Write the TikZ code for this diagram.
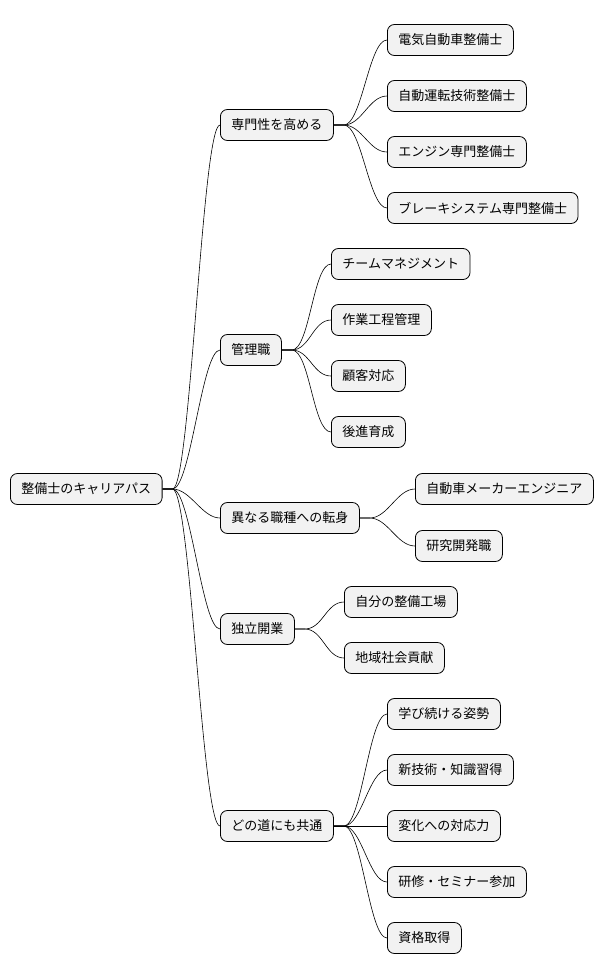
\documentclass[tikz,border=0pt]{standalone}
\usepackage{fontspec}
\setmainfont{Noto Sans CJK JP}
\usepackage{tikz}

\begin{document}
\begin{tikzpicture}[x=1pt,y=-1pt,
  topic/.style={draw=black,fill=gray!10,rounded corners=7pt,anchor=west,line width=0.8pt,
    minimum height=31pt,inner xsep=11pt,font=\fontsize{13}{15}\selectfont},
  link/.style={line width=0.6pt}]
	\useasboundingbox (0,0) rectangle (614,978);
	
	% root
	\node[topic] (root) at (10,489) {整備士のキャリアパス};
	
	% first level
	\node[topic] (pro) at (220,125) {専門性を高める};
	\node[topic] (mgr) at (220,350) {管理職};
	\node[topic] (chg) at (220,518) {異なる職種への転身};
	\node[topic] (ind) at (220,629) {独立開業};
	\node[topic] (com) at (220,826) {どの道にも共通};
	
	% second level
	\node[topic] (pro1) at (387,40) {電気自動車整備士};
	\node[topic] (pro2) at (387,96) {自動運転技術整備士};
	\node[topic] (pro3) at (387,152) {エンジン専門整備士};
	\node[topic] (pro4) at (387,208) {ブレーキシステム専門整備士};
	\node[topic] (mgr1) at (331,264) {チームマネジメント};
	\node[topic] (mgr2) at (331,320) {作業工程管理};
	\node[topic] (mgr3) at (331,376) {顧客対応};
	\node[topic] (mgr4) at (331,432) {後進育成};
	\node[topic] (chg1) at (415,489) {自動車メーカーエンジニア};
	\node[topic] (chg2) at (415,546) {研究開発職};
	\node[topic] (ind1) at (344,602) {自分の整備工場};
	\node[topic] (ind2) at (344,658) {地域社会貢献};
	\node[topic] (com1) at (387,714) {学び続ける姿勢};
	\node[topic] (com2) at (387,770) {新技術・知識習得};
	\node[topic] (com3) at (387,826) {変化への対応力};
	\node[topic] (com4) at (387,882) {研修・セミナー参加};
	\node[topic] (com5) at (387,938) {資格取得};
	
	% connectors
	\foreach \p/\c in {root/pro,root/mgr,root/chg,root/ind,root/com,
	  pro/pro1,pro/pro2,pro/pro3,pro/pro4,mgr/mgr1,mgr/mgr2,mgr/mgr3,mgr/mgr4,
	  chg/chg1,chg/chg2,ind/ind1,ind/ind2,com/com1,com/com2,com/com3,com/com4,com/com5}
	  \draw[link] (\p.east) -- ++(10,0) .. controls +(18,0) and +(-18,0) .. (\c.west);
\end{tikzpicture}
\end{document}
